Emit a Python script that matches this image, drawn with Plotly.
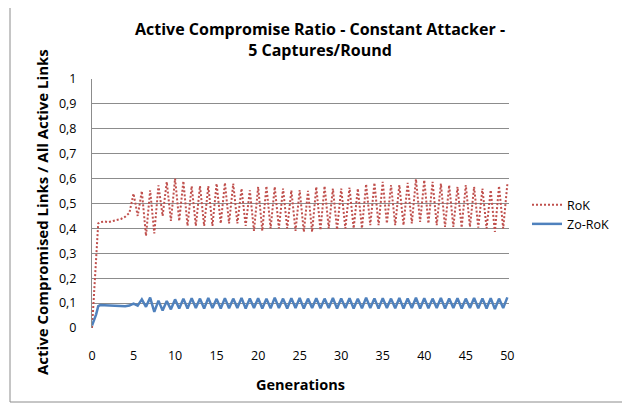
import plotly.graph_objects as go

generations = [0, 0.25, 0.5, 0.75, 1, 1.5, 2, 2.5, 3, 3.5, 4, 4.5, 5,
               5.5, 6, 6.5, 7, 7.5, 8, 8.5, 9, 9.5, 10,
               10.5, 11, 11.5, 12, 12.5, 13, 13.5, 14, 14.5, 15,
               15.5, 16, 16.5, 17, 17.5, 18, 18.5, 19, 19.5, 20,
               20.5, 21, 21.5, 22, 22.5, 23, 23.5, 24, 24.5, 25,
               25.5, 26, 26.5, 27, 27.5, 28, 28.5, 29, 29.5, 30,
               30.5, 31, 31.5, 32, 32.5, 33, 33.5, 34, 34.5, 35,
               35.5, 36, 36.5, 37, 37.5, 38, 38.5, 39, 39.5, 40,
               40.5, 41, 41.5, 42, 42.5, 43, 43.5, 44, 44.5, 45,
               45.5, 46, 46.5, 47, 47.5, 48, 48.5, 49, 49.5, 50]

rok = [0.00, 0.14, 0.30, 0.42, 0.425, 0.428, 0.425, 0.43, 0.432, 0.438, 0.447, 0.462, 0.54,
       0.45, 0.55, 0.37, 0.553, 0.38, 0.573, 0.45, 0.587, 0.43, 0.60,
       0.43, 0.59, 0.41, 0.57, 0.41, 0.57, 0.41, 0.57, 0.41, 0.58,
       0.42, 0.583, 0.42, 0.58, 0.42, 0.56, 0.41, 0.553, 0.39, 0.567,
       0.39, 0.57, 0.40, 0.567, 0.40, 0.56, 0.40, 0.553, 0.39, 0.554,
       0.386, 0.551, 0.386, 0.567, 0.393, 0.570, 0.40, 0.560, 0.395, 0.560,
       0.40, 0.564, 0.40, 0.560, 0.40, 0.578, 0.413, 0.583, 0.413, 0.587,
       0.42, 0.574, 0.413, 0.574, 0.413, 0.583, 0.42, 0.598, 0.426, 0.594,
       0.42, 0.587, 0.413, 0.580, 0.406, 0.574, 0.406, 0.567, 0.403, 0.574,
       0.406, 0.567, 0.403, 0.560, 0.40, 0.554, 0.386, 0.570, 0.40, 0.578]

zo_rok = [0.01, 0.03, 0.055, 0.088, 0.092, 0.091, 0.09, 0.088, 0.086, 0.088, 0.087, 0.09, 0.098,
          0.09, 0.115, 0.085, 0.122, 0.065, 0.11, 0.07, 0.108, 0.075, 0.115,
          0.078, 0.118, 0.078, 0.12, 0.08, 0.118, 0.078, 0.121, 0.08, 0.117,
          0.078, 0.12, 0.079, 0.118, 0.08, 0.121, 0.078, 0.119, 0.08, 0.12,
          0.078, 0.118, 0.079, 0.122, 0.08, 0.118, 0.078, 0.12, 0.08, 0.121,
          0.078, 0.118, 0.08, 0.12, 0.079, 0.118, 0.08, 0.121, 0.078, 0.119,
          0.08, 0.12, 0.078, 0.118, 0.079, 0.122, 0.08, 0.119, 0.078, 0.12,
          0.08, 0.118, 0.079, 0.121, 0.078, 0.119, 0.08, 0.122, 0.078, 0.12,
          0.079, 0.118, 0.08, 0.121, 0.078, 0.119, 0.08, 0.12, 0.078, 0.118,
          0.08, 0.121, 0.079, 0.119, 0.078, 0.12, 0.076, 0.118, 0.08, 0.123]

y_ticks = [0, 0.1, 0.2, 0.3, 0.4, 0.5, 0.6, 0.7, 0.8, 0.9, 1]
x_ticks = [0, 5, 10, 15, 20, 25, 30, 35, 40, 45, 50]

FONT = "Open Sans"

fig = go.Figure()
fig.add_trace(go.Scatter(x=generations, y=rok, mode="lines", name="RoK",
                         line=dict(color="#C0504D", width=2, dash="2px,2px")))
fig.add_trace(go.Scatter(x=generations, y=zo_rok, mode="lines", name="Zo-RoK",
                         line=dict(color="#4F81BD", width=2.5)))

# page body adds an 8px offset; work in screen coordinates and shift
OFF = 8
L, R, T, B = 92 - OFF, 509 - OFF, 79 - OFF, 328 - OFF
W, H = 630 - OFF, 405 - OFF


def px(x):
    return (x - OFF - L) / (R - L)


def py(y):
    return (B - (y - OFF)) / (B - T)


fig.update_layout(
    width=W, height=H,
    margin=dict(l=L, r=W - R, t=T, b=H - B, pad=0),
    paper_bgcolor="white", plot_bgcolor="white",
    separators=",.",
    font=dict(family=FONT, color="#000000", size=12),
    title=dict(text="<b>Active Compromise Ratio - Constant Attacker -<br>5 Captures/Round</b>",
               x=px(320), xref="paper", xanchor="center",
               y=1 - 27 / H, yanchor="top", yref="container",
               font=dict(family=FONT, size=16, color="#000000")),
    xaxis=dict(range=[0, 50.2], tickmode="array", tickvals=x_ticks,
               showgrid=False, zeroline=False, showline=False,
               ticks="", ticklen=0, automargin=False, ticklabelstandoff=18,
               tickfont=dict(size=12.5, color="#000000"),
               title=dict(text="<b>Generations</b>", font=dict(size=14.5), standoff=17)),
    yaxis=dict(range=[0, 1], tickmode="array", tickvals=y_ticks,
               showgrid=True, gridcolor="#8C8C8C", gridwidth=1,
               zeroline=False, showline=True, linecolor="#8C8C8C", linewidth=1,
               ticks="", ticklen=0, ticklabelstandoff=12, automargin=False,
               tickfont=dict(size=12.5, color="#000000")),
    annotations=[dict(text="<b>Active Compromised Links / All Active Links</b>",
                      xref="paper", yref="paper", x=px(42), y=py(212),
                      xanchor="center", yanchor="middle", textangle=-90,
                      showarrow=False, font=dict(size=15, color="#000000"))],
    legend=dict(x=px(527), y=py(190), xanchor="left", yanchor="top",
                bgcolor="rgba(0,0,0,0)", font=dict(size=12.5), tracegroupgap=0,
                itemwidth=30),
    showlegend=True,
    shapes=[dict(type="rect", xref="paper", yref="paper",
                 x0=px(10), x1=px(627), y0=py(402), y1=py(4),
                 line=dict(color="#8C8C8C", width=1), layer="below")],
)

fig.write_html("out.html")
